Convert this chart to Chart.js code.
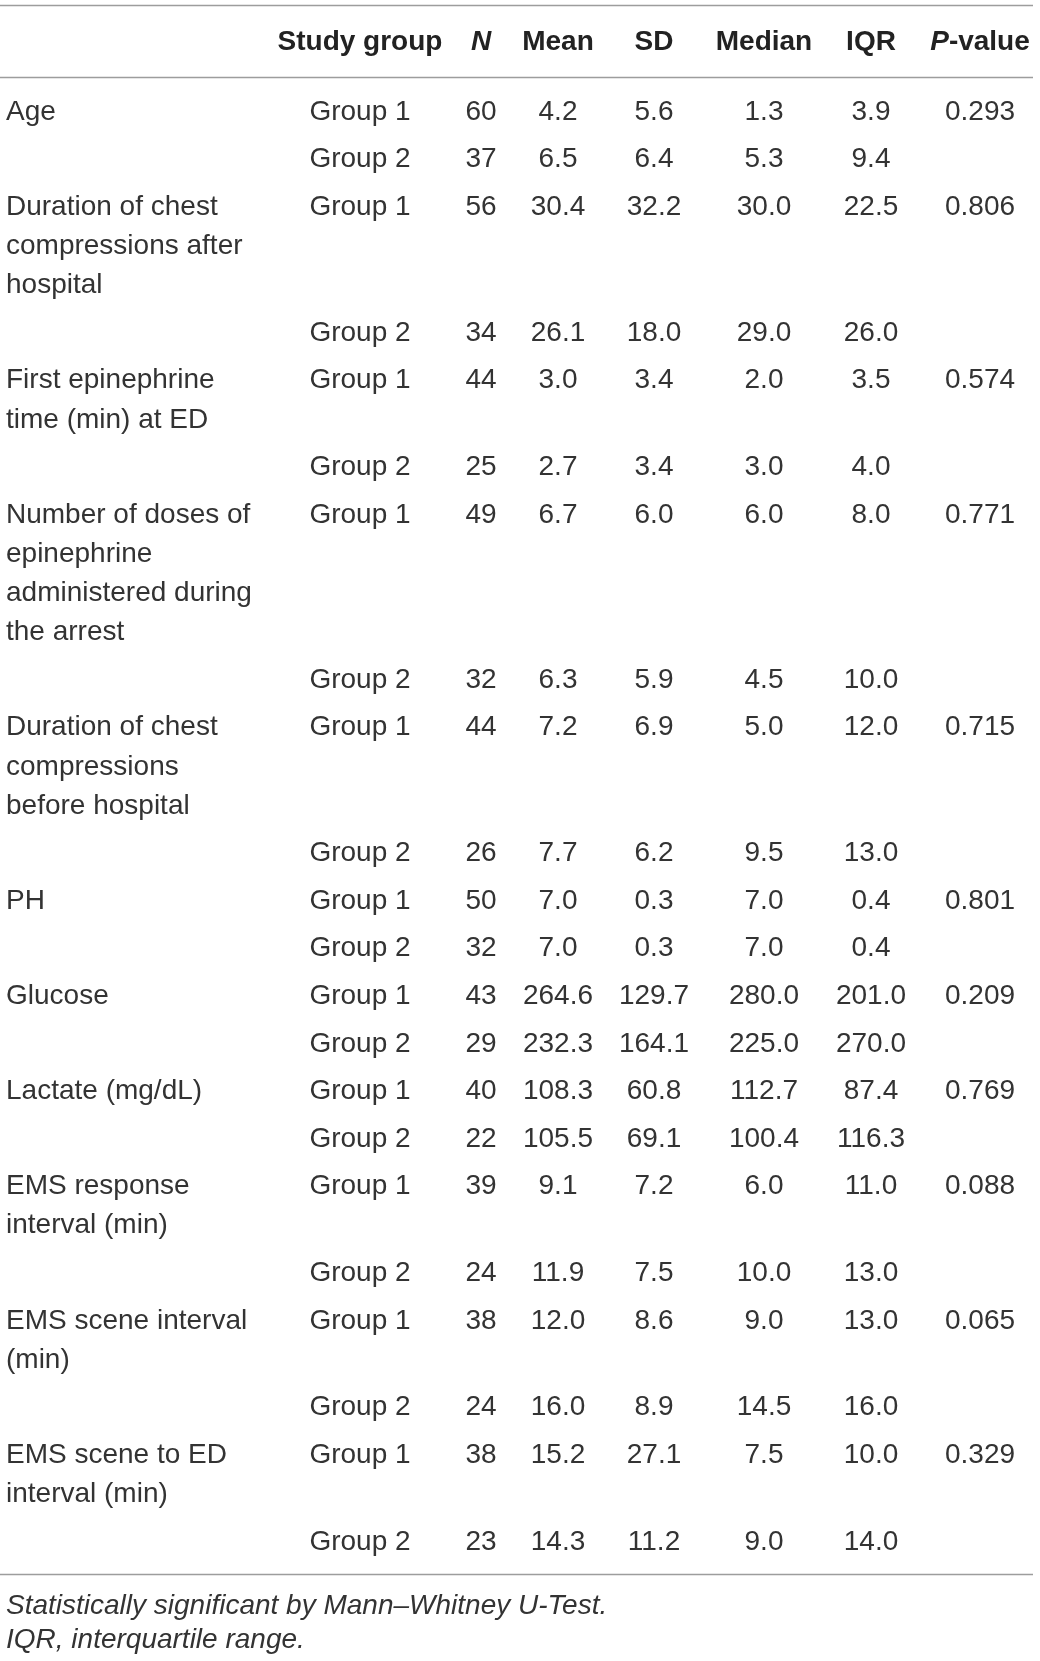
<!DOCTYPE html>
<html>
<head>
<meta charset="utf-8">
<title>Study group comparison</title>
<script src="https://cdn.jsdelivr.net/npm/chart.js@4.4.1/dist/chart.umd.min.js"></script>
<style>
	html, body { margin: 0; padding: 0; background: #fff; }
	#wrap { width: 1040px; height: 1661px; position: relative; }
</style>
</head>
<body>
<div id="wrap"><canvas id="tableChart"></canvas></div>
<script>

// ---- table content ----
var variables = [
	["Age"],
	["Duration of chest", "compressions after", "hospital"],
	["First epinephrine", "time (min) at ED"],
	["Number of doses of", "epinephrine", "administered during", "the arrest"],
	["Duration of chest", "compressions", "before hospital"],
	["PH"],
	["Glucose"],
	["Lactate (mg/dL)"],
	["EMS response", "interval (min)"],
	["EMS scene interval", "(min)"],
	["EMS scene to ED", "interval (min)"]
];
var groups = ["Group 1", "Group 2"];
var columnTitles = ["Study group", "N", "Mean", "SD", "Median", "IQR", "P-value"];

var nValues = [[60, 37], [56, 34], [44, 25], [49, 32], [44, 26], [50, 32], [43, 29], [40, 22], [39, 24], [38, 24], [38, 23]];
var meanValues = [[4.2, 6.5], [30.4, 26.1], [3.0, 2.7], [6.7, 6.3], [7.2, 7.7], [7.0, 7.0], [264.6, 232.3], [108.3, 105.5], [9.1, 11.9], [12.0, 16.0], [15.2, 14.3]];
var sdValues = [[5.6, 6.4], [32.2, 18.0], [3.4, 3.4], [6.0, 5.9], [6.9, 6.2], [0.3, 0.3], [129.7, 164.1], [60.8, 69.1], [7.2, 7.5], [8.6, 8.9], [27.1, 11.2]];
var medianValues = [[1.3, 5.3], [30.0, 29.0], [2.0, 3.0], [6.0, 4.5], [5.0, 9.5], [7.0, 7.0], [280.0, 225.0], [112.7, 100.4], [6.0, 10.0], [9.0, 14.5], [7.5, 9.0]];
var iqrValues = [[3.9, 9.4], [22.5, 26.0], [3.5, 4.0], [8.0, 10.0], [12.0, 13.0], [0.4, 0.4], [201.0, 270.0], [87.4, 116.3], [11.0, 13.0], [13.0, 16.0], [10.0, 14.0]];
var pValues = [0.293, 0.806, 0.574, 0.771, 0.715, 0.801, 0.209, 0.769, 0.088, 0.065, 0.329];

var footnotes = ["Statistically significant by Mann\u2013Whitney U-Test.", "IQR, interquartile range."];

// ---- layout (scale units = px of the 1040 x 1661 page) ----
var LABEL_X = 6;
var COLUMN_X = [360, 481, 558, 654, 764, 871, 980];
var HEADER_Y = 42;
var FIRST_ROW_Y = 112;
var ROW_STEP = 47.56;
var LINE_STEP = 39.2;
var RULE_RIGHT = 1033;
var FOOT_Y = 1606;
var FOOT_STEP = 34.5;

var FONT = "'Liberation Sans', Arial, Helvetica, sans-serif";
var TEXT_COLOR = "#333333";
var RULE_COLOR = "#9d9d9d";

// y position of every group row, worked out from how many lines each label wraps to
var rowY = [];
var yCursor = FIRST_ROW_Y;
variables.forEach(function (lines) {
	var g1 = yCursor;
	var g2 = g1 + (lines.length - 1) * LINE_STEP + ROW_STEP;
	rowY.push([g1, g2]);
	yCursor = g2 + ROW_STEP;
});
var lastRowY = yCursor - ROW_STEP;
var RULE_Y = [5, 77, lastRowY + 32];

var fmt1 = function (v) { return v.toFixed(1); };

var makeColumn = function (x, values, format) {
	var pts = [];
	values.forEach(function (pair, i) {
		pair.forEach(function (v, g) {
			pts.push({ x: x, y: rowY[i][g], text: format(v) });
		});
	});
	return pts;
};

var labelPoints = variables.map(function (lines, i) {
	return { x: LABEL_X, y: rowY[i][0], lines: lines };
});
var groupPoints = [];
variables.forEach(function (lines, i) {
	groups.forEach(function (g, k) {
		groupPoints.push({ x: COLUMN_X[0], y: rowY[i][k], text: g });
	});
});
var pPoints = pValues.map(function (p, i) {
	return { x: COLUMN_X[6], y: rowY[i][0], text: p.toFixed(3) };
});

var cellDataset = function (label, data, align) {
	return {
		label: label,
		data: data,
		align: align,
		pointRadius: 0,
		pointHoverRadius: 0,
		showLine: false
	};
};

var datasets = [
	cellDataset("Variable", labelPoints, "left"),
	cellDataset("Study group", groupPoints, "center"),
	cellDataset("N", makeColumn(COLUMN_X[1], nValues, function (v) { return String(v); }), "center"),
	cellDataset("Mean", makeColumn(COLUMN_X[2], meanValues, fmt1), "center"),
	cellDataset("SD", makeColumn(COLUMN_X[3], sdValues, fmt1), "center"),
	cellDataset("Median", makeColumn(COLUMN_X[4], medianValues, fmt1), "center"),
	cellDataset("IQR", makeColumn(COLUMN_X[5], iqrValues, fmt1), "center"),
	cellDataset("P-value", pPoints, "center")
];

// draws rules, header, cell text and footnotes
var tablePlugin = {
	id: "tableText",
	beforeDatasetsDraw: function (chart) {
		var ctx = chart.ctx;
		var xs = chart.scales.x, ys = chart.scales.y;
		ctx.save();
		ctx.strokeStyle = RULE_COLOR;
		ctx.lineWidth = 1.6;
		RULE_Y.forEach(function (y) {
			var py = Math.round(ys.getPixelForValue(y)) + 0.5;
			ctx.beginPath();
			ctx.moveTo(xs.getPixelForValue(0), py);
			ctx.lineTo(xs.getPixelForValue(RULE_RIGHT), py);
			ctx.stroke();
		});
		ctx.restore();
	},
	afterDatasetsDraw: function (chart) {
		var ctx = chart.ctx;
		var xs = chart.scales.x, ys = chart.scales.y;
		ctx.save();
		ctx.fillStyle = TEXT_COLOR;
		ctx.textBaseline = "middle";

		// header
		var hy = ys.getPixelForValue(HEADER_Y);
		columnTitles.forEach(function (t, i) {
			var cx = xs.getPixelForValue(COLUMN_X[i]);
			var parts;
			if (t === "N") parts = [["N", true]];
			else if (t === "P-value") parts = [["P", true], ["-value", false]];
			else parts = [[t, false]];
			var widths = parts.map(function (p) {
				ctx.font = (p[1] ? "italic " : "") + "bold 28px " + FONT;
				return ctx.measureText(p[0]).width;
			});
			var total = widths.reduce(function (a, b) { return a + b; }, 0);
			var x = cx - total / 2;
			ctx.textAlign = "left";
			ctx.fillStyle = "#222222";
			parts.forEach(function (p, k) {
				ctx.font = (p[1] ? "italic " : "") + "bold 28px " + FONT;
				ctx.fillText(p[0], x, hy);
				x += widths[k];
			});
		});

		// cells
		ctx.fillStyle = TEXT_COLOR;
		ctx.font = "28px " + FONT;
		chart.data.datasets.forEach(function (ds, di) {
			var meta = chart.getDatasetMeta(di);
			ctx.textAlign = ds.align;
			meta.data.forEach(function (el, i) {
				var raw = ds.data[i];
				if (raw.lines) {
					raw.lines.forEach(function (line, k) {
						ctx.fillText(line, el.x, ys.getPixelForValue(raw.y + k * LINE_STEP));
					});
				} else {
					ctx.fillText(raw.text, el.x, el.y);
				}
			});
		});

		// footnotes
		ctx.font = "italic 28px " + FONT;
		ctx.textAlign = "left";
		footnotes.forEach(function (f, i) {
			ctx.fillText(f, xs.getPixelForValue(LABEL_X), ys.getPixelForValue(FOOT_Y + i * FOOT_STEP));
		});
		ctx.restore();
	}
};

new Chart(document.getElementById("tableChart"), {
	type: "scatter",
	data: { datasets: datasets },
	options: {
		responsive: true,
		maintainAspectRatio: false,
		animation: false,
		events: [],
		layout: { padding: 0 },
		plugins: { legend: { display: false }, tooltip: { enabled: false } },
		scales: {
			x: { type: "linear", min: 0, max: 1040, display: false },
			y: { type: "linear", min: 0, max: 1661, reverse: true, display: false }
		}
	},
	plugins: [tablePlugin]
});
</script>
</body>
</html>
